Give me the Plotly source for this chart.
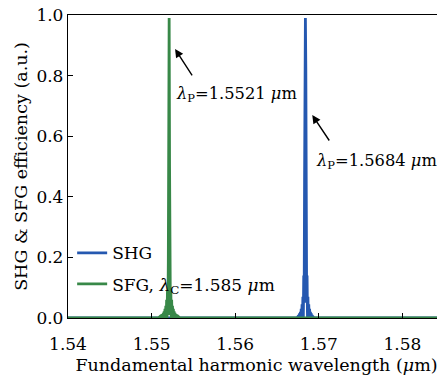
import plotly.graph_objects as go

# SHG peak (µm, a.u.)
shg_x = [1.5400, 1.5674, 1.5675, 1.56755, 1.5676, 1.56765, 1.5677, 1.56775, 1.5678, 1.56785,
         1.5679, 1.56795, 1.5680, 1.56805, 1.5681, 1.56815, 1.5682, 1.56825, 1.5683, 1.56835,
         1.5684, 1.56845, 1.5685, 1.56855, 1.5686, 1.56865, 1.5687, 1.56875, 1.5688, 1.56885,
         1.5689, 1.56895, 1.5690, 1.56905, 1.5691, 1.56915, 1.5692, 1.56925, 1.5693, 1.5694, 1.5855]
shg_y = [0.0, 0.0, 0.005, 0.0, 0.01, 0.0, 0.015, 0.0, 0.02, 0.0,
         0.03, 0.0, 0.045, 0.0, 0.07, 0.0, 0.14, 0.05, 0.45, 0.82,
         0.99, 0.82, 0.45, 0.05, 0.14, 0.0, 0.07, 0.0, 0.045, 0.0,
         0.03, 0.0, 0.02, 0.0, 0.015, 0.0, 0.01, 0.0, 0.005, 0.0, 0.0]

# SFG peak (µm, a.u.)
sfg_x = [1.5400, 1.5508, 1.5510, 1.55105, 1.5511, 1.55115, 1.5512, 1.55125, 1.5513, 1.55135,
         1.5514, 1.55145, 1.5515, 1.55155, 1.5516, 1.55165, 1.5517, 1.55175, 1.5518, 1.55185,
         1.5519, 1.55195, 1.5520, 1.55205, 1.5521, 1.55215, 1.5522, 1.55225, 1.5523, 1.55235,
         1.5524, 1.55245, 1.5525, 1.55255, 1.5526, 1.55265, 1.5527, 1.55275, 1.5528, 1.55285,
         1.5529, 1.55295, 1.5530, 1.55305, 1.5531, 1.55315, 1.5532, 1.5534, 1.5855]
sfg_y = [0.0, 0.0, 0.005, 0.0, 0.008, 0.0, 0.01, 0.0, 0.013, 0.0,
         0.017, 0.0, 0.022, 0.0, 0.03, 0.0, 0.04, 0.0, 0.06, 0.0,
         0.09, 0.01, 0.18, 0.5, 0.99, 0.5, 0.18, 0.01, 0.09, 0.0,
         0.06, 0.0, 0.04, 0.0, 0.03, 0.0, 0.022, 0.0, 0.017, 0.0,
         0.013, 0.0, 0.01, 0.0, 0.008, 0.0, 0.005, 0.0, 0.0]

x_ticks = [1.54, 1.55, 1.56, 1.57, 1.58]
x_tick_labels = ["1.54", "1.55", "1.56", "1.57", "1.58"]
y_ticks = [0.0, 0.2, 0.4, 0.6, 0.8, 1.0]
y_tick_labels = ["0.0", "0.2", "0.4", "0.6", "0.8", "1.0"]

FONT = "DejaVu Serif"
BLUE = "#2558b0"
GREEN = "#388848"

fig = go.Figure()
fig.add_trace(go.Scatter(x=shg_x, y=shg_y, mode="lines", name="SHG", legendgroup="a",
                         line=dict(color=BLUE, width=2.8)))
fig.add_trace(go.Scatter(x=sfg_x, y=sfg_y, mode="lines", legendgroup="b",
                         name="SFG, <i>λ</i><sub>C</sub>=1.585 <i>μ</i>m",
                         line=dict(color=GREEN, width=2.8)))

# arrows
fig.add_annotation(x=1.55281, y=0.888, ax=18, ay=28, xref="x", yref="y",
                   showarrow=True, arrowhead=2, arrowsize=1.2, arrowwidth=1.4,
                   arrowcolor="black", text="")
fig.add_annotation(x=1.56922, y=0.670, ax=18, ay=27, xref="x", yref="y",
                   showarrow=True, arrowhead=2, arrowsize=1.2, arrowwidth=1.4,
                   arrowcolor="black", text="")
# labels
fig.add_annotation(x=1.55265, y=0.736, xref="x", yref="y", xanchor="left", yanchor="middle",
                   showarrow=False, text="<i>λ</i><sub>P</sub>=1.5521 <i>μ</i>m",
                   font=dict(family=FONT, size=16.3, color="black"))
fig.add_annotation(x=1.56940, y=0.518, xref="x", yref="y", xanchor="left", yanchor="middle",
                   showarrow=False, text="<i>λ</i><sub>P</sub>=1.5684 <i>μ</i>m",
                   font=dict(family=FONT, size=16.3, color="black"))

fig.update_layout(
    width=437, height=367,
    margin=dict(l=60, r=0, t=7, b=57),
    paper_bgcolor="white", plot_bgcolor="white",
    font=dict(family=FONT, size=17, color="black"),
    showlegend=True,
    legend=dict(x=0.011, y=0.273, xanchor="left", yanchor="top",
                bgcolor="rgba(0,0,0,0)", font=dict(family=FONT, size=17),
                tracegroupgap=6, itemwidth=30),
    xaxis=dict(range=[1.54, 1.5851], tickvals=x_ticks, ticktext=x_tick_labels,
               ticks="inside", ticklen=5, tickcolor="black", showgrid=False,
               zeroline=False, showline=True, linecolor="black", linewidth=1.3,
               mirror=True, automargin=False, tickfont=dict(size=17),
               ticklabelstandoff=10, ticklabeloverflow="allow",
               title=dict(text="Fundamental harmonic wavelength (<i>μ</i>m)",
                          font=dict(family=FONT, size=17.5), standoff=13)),
    yaxis=dict(range=[0, 1.0], tickvals=y_ticks, ticktext=y_tick_labels,
               ticks="inside", ticklen=5, tickcolor="black", showgrid=False,
               zeroline=False, showline=True, linecolor="black", linewidth=1.3,
               automargin=False, tickfont=dict(size=17), ticklabeloverflow="allow",
               title=dict(text="SHG &amp; SFG efficiency (a.u.)",
                          font=dict(family=FONT, size=17.5), standoff=4)),
)

fig.write_html("out.html")
